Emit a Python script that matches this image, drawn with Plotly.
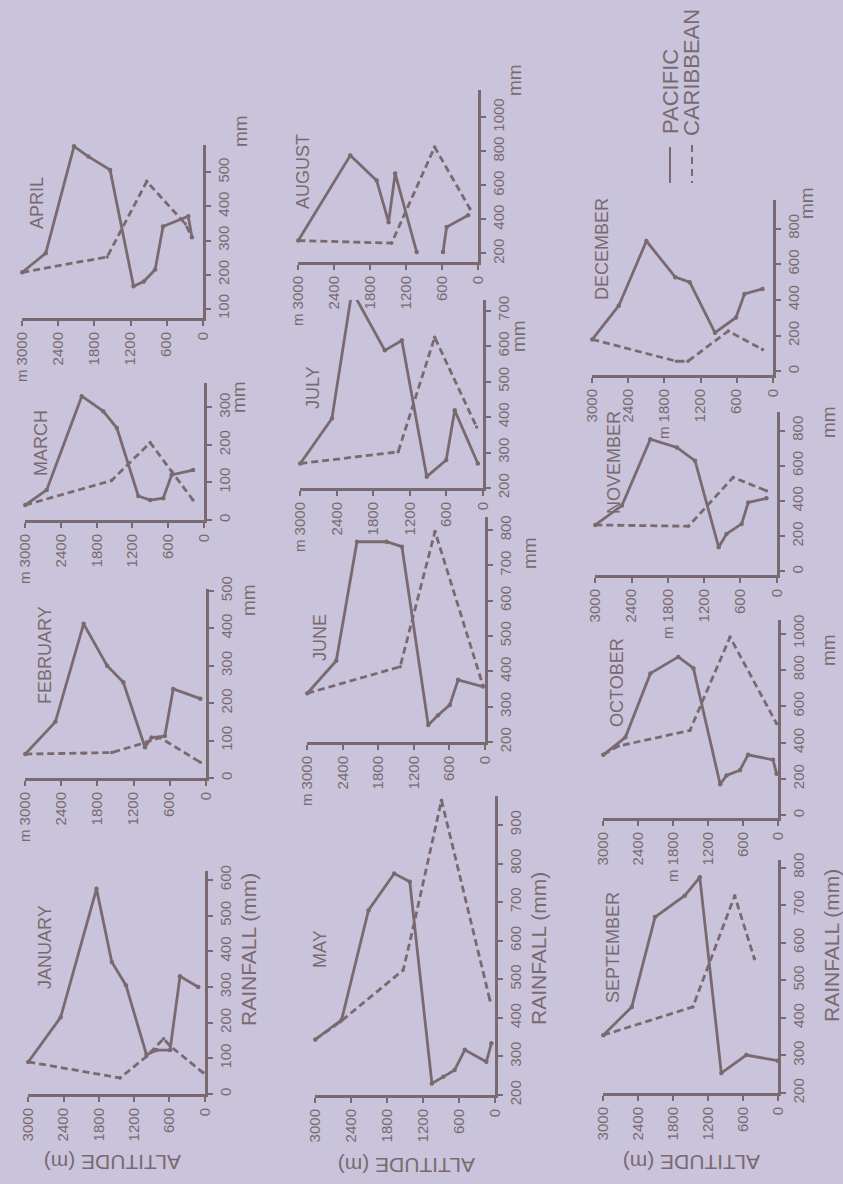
import plotly.graph_objects as go

W, H = 843, 1184
INK = "#7a6a6f"
BG = "#c9c4db"
TICK_FONT = "Liberation Sans Narrow, Arial Narrow, Liberation Sans, Arial"
TEXT_FONT = "Liberation Sans, Arial"

MONTHS = ["JANUARY", "FEBRUARY", "MARCH", "APRIL", "MAY", "JUNE",
          "JULY", "AUGUST", "SEPTEMBER", "OCTOBER", "NOVEMBER", "DECEMBER"]

ALT_TICKS = [3000, 2400, 1800, 1200, 600, 0]

# ---- data: altitude (m) and rainfall (mm), Pacific (solid) / Caribbean (dashed)
JAN_PAC_ALT = [3000, 2450, 1840, 1580, 1340, 990, 820, 590, 420, 110]
JAN_PAC_RAIN = [90, 215, 575, 370, 305, 110, 123, 123, 330, 300]
JAN_CAR_ALT = [3000, 1440, 990, 700, 590, 30]
JAN_CAR_RAIN = [90, 45, 105, 155, 135, 60]

FEB_PAC_ALT = [3000, 2500, 2030, 1640, 1370, 1010, 900, 680, 540, 90]
FEB_PAC_RAIN = [64, 150, 412, 300, 256, 82, 108, 112, 238, 212]
FEB_CAR_ALT = [3000, 2030, 1560, 980, 760, 90]
FEB_CAR_RAIN = [64, 66, 68, 96, 108, 42]

MAR_PAC_ALT = [3000, 2640, 2050, 1690, 1460, 1100, 900, 680, 540, 180]
MAR_PAC_RAIN = [40, 80, 330, 290, 245, 64, 53, 58, 120, 133]
MAR_CAR_ALT = [3000, 1550, 900, 540, 180]
MAR_CAR_RAIN = [40, 105, 206, 130, 53]

APR_PAC_ALT = [3000, 2610, 2140, 1900, 1540, 1150, 980, 790, 660, 240, 180]
APR_PAC_RAIN = [207, 263, 576, 546, 507, 166, 180, 215, 341, 371, 310]
APR_CAR_ALT = [3000, 1590, 930, 290, 180]
APR_CAR_RAIN = [207, 252, 473, 349, 310]

MAY_PAC_ALT = [3000, 2560, 2110, 1680, 1420, 1050, 860, 670, 500, 140, 55]
MAY_PAC_RAIN = [344, 395, 679, 774, 753, 230, 247, 265, 317, 286, 334]
MAY_CAR_ALT = [3000, 2580, 1530, 1360, 890, 80]
MAY_CAR_RAIN = [344, 390, 524, 636, 964, 446]

JUN_PAC_ALT = [3000, 2510, 2160, 1660, 1400, 955, 790, 590, 450, 30]
JUN_PAC_RAIN = [338, 430, 767, 767, 753, 248, 276, 305, 376, 357]
JUN_CAR_ALT = [3000, 1430, 840, 30]
JUN_CAR_RAIN = [338, 413, 796, 360]

JUL_PAC_ALT = [3000, 2480, 2150, 1610, 1330, 920, 600, 460, 80]
JUL_PAC_RAIN = [269, 396, 756, 588, 616, 232, 279, 419, 269]
JUL_CAR_ALT = [3000, 1390, 790, 100]
JUL_CAR_RAIN = [269, 302, 625, 372]

AUG_PAC_ALT = [3000, 2130, 1690, 1490, 1380, 1020, None, 580, 520, 160]
AUG_PAC_RAIN = [276, 776, 629, 384, 669, 208, None, 208, 355, 424]
AUG_CAR_ALT = [3000, 1440, 720, 130]
AUG_CAR_RAIN = [276, 261, 825, 463]

SEP_PAC_ALT = [3000, 2510, 2110, 1600, 1340, 970, 540, 0]
SEP_PAC_RAIN = [354, 429, 668, 725, 774, 253, 301, 286]
SEP_CAR_ALT = [3000, 1460, 740, 400]
SEP_CAR_RAIN = [354, 429, 725, 557]

OCT_PAC_ALT = [3000, 2620, 2190, 1710, 1450, 990, 880, 650, 510, 80, 20]
OCT_PAC_RAIN = [333, 429, 781, 872, 810, 171, 219, 248, 333, 305, 229]
OCT_CAR_ALT = [3000, 2740, 1510, 820, 20]
OCT_CAR_RAIN = [333, 381, 467, 981, 505]

NOV_PAC_ALT = [3000, 2560, 2090, 1650, 1350, 960, 830, 580, 470, 170]
NOV_PAC_RAIN = [264, 374, 751, 704, 628, 138, 213, 270, 392, 415]
NOV_CAR_ALT = [3000, 1460, 720, 170]
NOV_CAR_RAIN = [264, 257, 534, 458]

DEC_PAC_ALT = [3000, 2560, 2100, 1620, 1380, 960, 610, 470, 170]
DEC_PAC_RAIN = [179, 368, 730, 528, 500, 217, 302, 434, 462]
DEC_CAR_ALT = [3000, 1600, 1410, 740, 170]
DEC_CAR_RAIN = [179, 57, 57, 226, 123]

RAIN_TICKS = [
    [0, 100, 200, 300, 400, 500, 600],
    [0, 100, 200, 300, 400, 500],
    [0, 100, 200, 300],
    [100, 200, 300, 400, 500],
    [200, 300, 400, 500, 600, 700, 800, 900],
    [200, 300, 400, 500, 600, 700, 800],
    [200, 300, 400, 500, 600, 700],
    [200, 400, 600, 800, 1000],
    [200, 300, 400, 500, 600, 700, 800],
    [0, 200, 400, 600, 800, 1000],
    [0, 200, 400, 600, 800],
    [0, 200, 400, 600, 800],
]

SERIES = [
    (JAN_PAC_ALT, JAN_PAC_RAIN, JAN_CAR_ALT, JAN_CAR_RAIN),
    (FEB_PAC_ALT, FEB_PAC_RAIN, FEB_CAR_ALT, FEB_CAR_RAIN),
    (MAR_PAC_ALT, MAR_PAC_RAIN, MAR_CAR_ALT, MAR_CAR_RAIN),
    (APR_PAC_ALT, APR_PAC_RAIN, APR_CAR_ALT, APR_CAR_RAIN),
    (MAY_PAC_ALT, MAY_PAC_RAIN, MAY_CAR_ALT, MAY_CAR_RAIN),
    (JUN_PAC_ALT, JUN_PAC_RAIN, JUN_CAR_ALT, JUN_CAR_RAIN),
    (JUL_PAC_ALT, JUL_PAC_RAIN, JUL_CAR_ALT, JUL_CAR_RAIN),
    (AUG_PAC_ALT, AUG_PAC_RAIN, AUG_CAR_ALT, AUG_CAR_RAIN),
    (SEP_PAC_ALT, SEP_PAC_RAIN, SEP_CAR_ALT, SEP_CAR_RAIN),
    (OCT_PAC_ALT, OCT_PAC_RAIN, OCT_CAR_ALT, OCT_CAR_RAIN),
    (NOV_PAC_ALT, NOV_PAC_RAIN, NOV_CAR_ALT, NOV_CAR_RAIN),
    (DEC_PAC_ALT, DEC_PAC_RAIN, DEC_CAR_ALT, DEC_CAR_RAIN),
]

# ---- layout (pixel geometry of each panel): x@3000m, x@0m, y corner, y top, rain min, rain max
PANEL_PX = [
    (28, 205, 1094, 871, 0, 625),
    (25, 206, 778, 589, 0, 505),
    (25, 204, 520, 383, 0, 365),
    (22, 203, 318, 145, 73, 580),
    (315, 495, 1095, 796, 200, 975),
    (307, 485, 742, 517, 200, 837),
    (300, 483, 488, 300, 200, 730),
    (298, 478, 262, 90, 150, 1160),
    (603, 778, 1093, 860, 200, 820),
    (603, 778, 818, 620, -15, 1075),
    (595, 777, 575, 412, -20, 905),
    (592, 773, 375, 200, -20, 960),
]
UNIT_AT = [None, 3000, 3000, 3000, None, 3000, 3000, 3000, None, 1800, 1800, 1800]
TITLE_PX = [(45, 947), (45, 655), (41, 443), (37, 203), (320, 949), (320, 638),
            (313, 388), (303, 172), (613, 948), (617, 683), (614, 463), (602, 249)]
MM_PX = [None, (248, 600), (238, 397), (240, 131), None, (530, 553), (518, 336),
         (515, 80), None, (828, 650), (829, 422), (806, 203)]
RAINFALL_TITLE_PX = [(248, 950), (538, 949), (831, 946)]
ALT_TITLE_PX = [(113, 1163), (407, 1166), (692, 1163)]

fig = go.Figure()
annotations = []

for i, month in enumerate(MONTHS):
    n = i + 1
    xref = "x" if n == 1 else f"x{n}"
    yref = "y" if n == 1 else f"y{n}"
    pa, pr, ca, cr = SERIES[i]
    x3000, x0, yc, yt, rmin, rmax = PANEL_PX[i]

    fig.add_trace(go.Scatter(x=pa, y=pr, xaxis=xref, yaxis=yref, mode="lines+markers",
                             line=dict(color=INK, width=2.8), marker=dict(size=4.5, color=INK),
                             showlegend=False, cliponaxis=False, hoverinfo="skip"))
    fig.add_trace(go.Scatter(x=ca, y=cr, xaxis=xref, yaxis=yref, mode="lines+markers",
                             line=dict(color=INK, width=2.8, dash="7px,4px"),
                             marker=dict(size=3.5, color=INK),
                             showlegend=False, cliponaxis=False, hoverinfo="skip"))

    ticktext = []
    for v in ALT_TICKS:
        if UNIT_AT[i] == v:
            ticktext.append("m\u00a0" + str(v))
        else:
            ticktext.append(str(v))

    xkey = "xaxis" if n == 1 else f"xaxis{n}"
    ykey = "yaxis" if n == 1 else f"yaxis{n}"
    fig.update_layout(**{
        xkey: dict(domain=[x3000 / W, x0 / W], range=[3005, -5], anchor=yref,
                   tickmode="array", tickvals=ALT_TICKS, ticktext=ticktext, tickangle=-90,
                   showline=True, linecolor=INK, linewidth=3, ticks="outside",
                   ticklen=5, tickwidth=2, tickcolor=INK, showgrid=False, zeroline=False,
                   tickfont=dict(family=TICK_FONT, size=15, color=INK)),
        ykey: dict(domain=[(H - yc) / H, (H - yt) / H], range=[rmin, rmax], anchor=xref,
                   side="right", tickmode="array", tickvals=RAIN_TICKS[i], tickangle=-90,
                   showline=True, linecolor=INK, linewidth=3, ticks="outside",
                   ticklen=5, tickwidth=2, tickcolor=INK, showgrid=False, zeroline=False,
                   tickfont=dict(family=TICK_FONT, size=15, color=INK)),
    })

    tx, ty = TITLE_PX[i]
    annotations.append(dict(text=month, x=tx / W, y=1 - ty / H, xref="paper", yref="paper",
                            showarrow=False, textangle=-90, xanchor="center", yanchor="middle",
                            font=dict(family=TEXT_FONT, size=18, color=INK)))
    if MM_PX[i] is not None:
        mx, my = MM_PX[i]
        annotations.append(dict(text="mm", x=mx / W, y=1 - my / H, xref="paper", yref="paper",
                                showarrow=False, textangle=-90, xanchor="center", yanchor="middle",
                                font=dict(family=TEXT_FONT, size=19, color=INK)))

for (rx, ry), (ax_, ay_) in zip(RAINFALL_TITLE_PX, ALT_TITLE_PX):
    annotations.append(dict(text="RAINFALL (mm)", x=rx / W, y=1 - ry / H, xref="paper",
                            yref="paper", showarrow=False, textangle=-90, xanchor="center",
                            yanchor="middle", font=dict(family=TEXT_FONT, size=21, color=INK)))
    annotations.append(dict(text="ALTITUDE (m)", x=ax_ / W, y=1 - ay_ / H, xref="paper",
                            yref="paper", showarrow=False, textangle=180, xanchor="center",
                            yanchor="middle", font=dict(family=TEXT_FONT, size=21, color=INK)))

# legend (drawn manually, rotated like the page)
annotations.append(dict(text="PACIFIC", x=670 / W, y=1 - 92 / H, xref="paper", yref="paper",
                        showarrow=False, textangle=-90, xanchor="center", yanchor="middle",
                        font=dict(family=TEXT_FONT, size=22, color=INK)))
annotations.append(dict(text="CARIBBEAN", x=692 / W, y=1 - 73 / H, xref="paper", yref="paper",
                        showarrow=False, textangle=-90, xanchor="center", yanchor="middle",
                        font=dict(family=TEXT_FONT, size=22, color=INK)))
shapes = [
    dict(type="line", xref="paper", yref="paper", x0=670 / W, x1=670 / W,
         y0=1 - 147 / H, y1=1 - 183 / H, line=dict(color=INK, width=2)),
    dict(type="line", xref="paper", yref="paper", x0=692 / W, x1=692 / W,
         y0=1 - 145 / H, y1=1 - 183 / H, line=dict(color=INK, width=2, dash="7px,5px")),
]

fig.update_layout(width=W, height=H, autosize=False, template="none",
                  margin=dict(l=0, r=0, t=0, b=0),
                  paper_bgcolor=BG, plot_bgcolor="rgba(0,0,0,0)",
                  annotations=annotations, shapes=shapes, showlegend=False,
                  font=dict(family=TEXT_FONT, color=INK))

fig.write_html("out.html",
               config={"displayModeBar": False, "staticPlot": True},
               post_script="document.body.style.margin='0';"
                           "document.body.style.overflow='hidden';"
                           "document.body.style.background='" + BG + "';")
